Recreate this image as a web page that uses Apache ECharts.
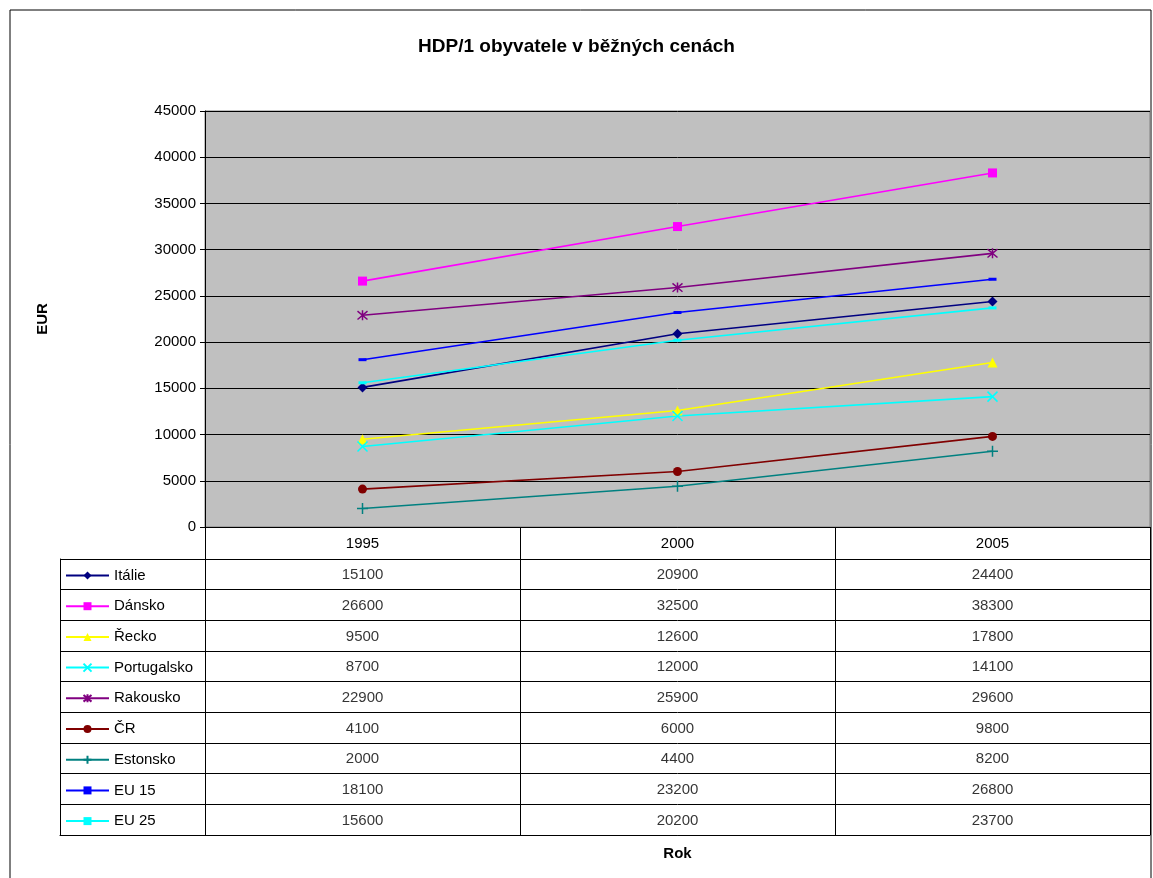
<!DOCTYPE html>
<html style="height: 100%">
<head>
  <meta charset="utf-8">
</head>
<body style="height: 100%; margin: 0; background: #fff">
  <div id="container" style="width: 1153px; height: 878px"></div>
  <script src="https://cdn.jsdelivr.net/npm/echarts@6/dist/echarts.min.js"></script>
  <script type="text/javascript">
    // data
    var years = ['1995', '2000', '2005'];
    var names = ['Itálie', 'Dánsko', 'Řecko', 'Portugalsko', 'Rakousko', 'ČR', 'Estonsko', 'EU 15', 'EU 25'];
    var italie = [15100, 20900, 24400];
    var dansko = [26600, 32500, 38300];
    var recko = [9500, 12600, 17800];
    var portugalsko = [8700, 12000, 14100];
    var rakousko = [22900, 25900, 29600];
    var cr = [4100, 6000, 9800];
    var estonsko = [2000, 4400, 8200];
    var eu15 = [18100, 23200, 26800];
    var eu25 = [15600, 20200, 23700];
    var values = [italie, dansko, recko, portugalsko, rakousko, cr, estonsko, eu15, eu25];

    var colors = ['#000080', '#ff00ff', '#ffff00', '#00ffff', '#800080', '#800000', '#008080', '#0000ff', '#00ffff'];
    var symbols = [
      'diamond', 'rect', 'triangle',
      'path://M0,0L10,10M10,0L0,10',
      'path://M0,0L10,10M10,0L0,10M5,-1L5,11',
      'circle',
      'path://M5,0L5,10M0,5L10,5',
      'rect', 'rect'
    ];
    var sizes = [10, 9, 10, 10, 10, 9, 11, [8, 3], [8, 3]];
    var stroked = [false, false, false, true, true, false, true, false, false];

    var myChart = echarts.init(document.getElementById('container'));

    var series = names.map(function (n, i) {
      return {
        name: n,
        type: 'line',
        xAxisIndex: 0,
        yAxisIndex: 0,
        data: values[i],
        symbol: symbols[i],
        symbolSize: sizes[i],
        showAllSymbol: true,
        lineStyle: { color: colors[i], width: 1.6 },
        itemStyle: stroked[i]
          ? { color: 'none', borderColor: colors[i], borderWidth: 1.5 }
          : { color: colors[i], borderColor: colors[i], borderWidth: 0 },
        emphasis: { disabled: true },
        z: 3
      };
    });

    // table cell values
    var cells = [];
    names.forEach(function (n, r) {
      years.forEach(function (y, c) {
        cells.push([c, r, values[r][c]]);
      });
    });
    series.push({
      type: 'scatter',
      xAxisIndex: 1,
      yAxisIndex: 1,
      symbolSize: 0,
      data: cells,
      label: {
        show: true,
        position: 'inside',
        offset: [0, 1],
        color: '#000',
        fontFamily: 'Liberation Sans, Arial',
        fontSize: 15,
        formatter: function (p) { return p.value[2]; }
      },
      emphasis: { disabled: true },
      silent: true
    });

    var font = 'Liberation Sans, Arial';
    var option = {
      animation: false,
      textStyle: { fontFamily: font },
      title: {
        text: 'HDP/1 obyvatele v běžných cenách',
        left: 'center',
        top: 32,
        textStyle: { fontSize: 19, fontWeight: 'bold', color: '#000', fontFamily: font }
      },
      legend: {
        data: names,
        orient: 'vertical',
        left: 65,
        top: 568,
        padding: 0,
        itemWidth: 43,
        itemHeight: 10,
        itemGap: 15.7,
        selectedMode: false,
        textStyle: { fontSize: 15, lineHeight: 15, color: '#000', fontFamily: font }
      },
      graphic: [{
        type: 'rect',
        shape: { x: 10, y: 10, width: 1141, height: 900 },
        style: { fill: 'none', stroke: '#000', lineWidth: 1 },
        z: -1
      }],
      grid: [
        { left: 205, right: 3, top: 111, bottom: 351, show: true, backgroundColor: '#c0c0c0', borderColor: '#808080', borderWidth: 1 },
        { left: 205, right: 3, top: 559, bottom: 43 },
        { left: 60, width: 145, top: 559, bottom: 43 }
      ],
      xAxis: [
        {
          type: 'category', gridIndex: 0, data: years, boundaryGap: true,
          axisLine: { lineStyle: { color: '#000', width: 1 } },
          axisTick: { show: true, length: 32, lineStyle: { color: '#000' } },
          axisLabel: { color: '#000', fontSize: 15, margin: 9, fontFamily: font },
          splitLine: { show: false }
        },
        {
          type: 'category', gridIndex: 1, data: years, boundaryGap: true,
          name: 'Rok', nameLocation: 'middle', nameGap: 11,
          nameTextStyle: { fontSize: 15, fontWeight: 'bold', color: '#000', fontFamily: font },
          axisLine: { show: true, lineStyle: { color: '#000' } },
          axisTick: { show: false },
          axisLabel: { show: false },
          splitLine: { show: true, lineStyle: { color: '#000', width: 1 } }
        },
        {
          type: 'value', gridIndex: 2,
          axisLine: { show: true, lineStyle: { color: '#000' } },
          axisTick: { show: false }, axisLabel: { show: false }, splitLine: { show: false }
        }
      ],
      yAxis: [
        {
          type: 'value', gridIndex: 0, min: 0, max: 45000, interval: 5000,
          name: 'EUR', nameLocation: 'middle', nameGap: 155, nameRotate: 90,
          nameTextStyle: { fontSize: 15, fontWeight: 'bold', color: '#000', fontFamily: font },
          axisLine: { show: true, lineStyle: { color: '#000' } },
          axisTick: { show: true, length: 5, lineStyle: { color: '#000' } },
          axisLabel: { color: '#000', fontSize: 15, margin: 9, fontFamily: font, formatter: function (v) { return String(v); } },
          splitLine: { show: true, lineStyle: { color: '#000', width: 1 } }
        },
        {
          type: 'category', gridIndex: 1, data: names, inverse: true, boundaryGap: true,
          axisLine: { show: true, lineStyle: { color: '#000' } },
          axisTick: { show: false }, axisLabel: { show: false },
          splitLine: { show: true, lineStyle: { color: '#000', width: 1 } }
        },
        {
          type: 'category', gridIndex: 2, data: names, inverse: true, boundaryGap: true,
          axisLine: { show: true, lineStyle: { color: '#000' } },
          axisTick: { show: false }, axisLabel: { show: false },
          splitLine: { show: true, lineStyle: { color: '#000', width: 1 } }
        }
      ],
      series: series
    };

    myChart.setOption(option);
  </script>
</body>
</html>
